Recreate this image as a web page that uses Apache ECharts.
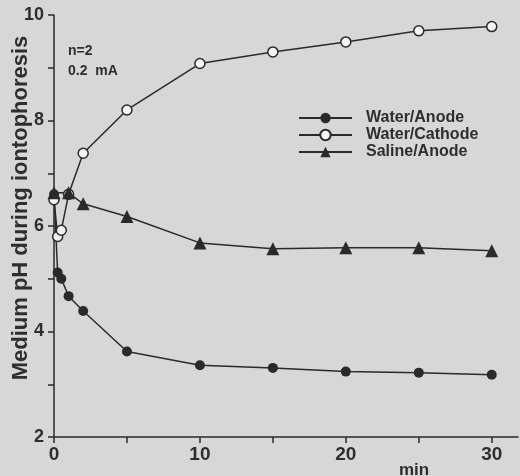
<!DOCTYPE html>
<html>
<head>
<meta charset="utf-8">
<script src="https://cdn.jsdelivr.net/npm/echarts@6/dist/echarts.min.js"></script>
<style>
  html, body { margin: 0; padding: 0; background: #d7d7d7; }
  #chart { width: 520px; height: 476px; }
</style>
</head>
<body>
<div id="chart"></div>
<script>
// data (time in min, medium pH)
const anodeTimes = [0, 0.25, 0.5, 1, 2, 5, 10, 15, 20, 25, 30];
const anodePH = [6.6, 5.12, 5.0, 4.67, 4.39, 3.62, 3.36, 3.31, 3.24, 3.22, 3.18];
const cathodeTimes = [0, 0.25, 0.5, 1, 2, 5, 10, 15, 20, 25, 30];
const cathodePH = [6.5, 5.8, 5.92, 6.6, 7.38, 8.2, 9.08, 9.3, 9.49, 9.7, 9.78];
const salineTimes = [0, 1, 2, 5, 10, 15, 20, 25, 30];
const salinePH = [6.63, 6.63, 6.42, 6.18, 5.68, 5.57, 5.59, 5.59, 5.53];
const seriesNames = ['Water/Anode', 'Water/Cathode', 'Saline/Anode'];
const xTicks = [0, 5, 10, 15, 20, 25, 30];
const xLabels = [0, 10, 20, 30];
const yLabels = [2, 4, 6, 8, 10];

const ink = '#2a2a2a';
const font = 'Liberation Sans, Arial, sans-serif';

function pairs(ts, vs) {
  return ts.map((t, i) => [t, vs[i]]);
}

const chart = echarts.init(document.getElementById('chart'));

chart.setOption({
  animation: false,
  backgroundColor: '#d7d7d7',
  grid: { left: 54, right: 2, top: 15, bottom: 39 },
  legend: {
    orient: 'vertical',
    left: 293,
    top: 105,
    itemWidth: 53,
    itemHeight: 13,
    itemGap: 1,
    data: seriesNames,
    textStyle: { color: '#2e2e2e', fontSize: 16, fontWeight: 'bold', fontFamily: font, padding: [0, 0, 0, 9] }
  },
  xAxis: {
    type: 'value',
    min: 0,
    max: 31.8,
    interval: 5,
    splitLine: { show: false },
    axisLine: { lineStyle: { color: ink, width: 1.5 } },
    axisTick: { length: 6, lineStyle: { color: ink, width: 1.5 }, customValues: xTicks },
    axisLabel: { customValues: xLabels, margin: 8, color: '#2e2e2e', fontSize: 19, fontWeight: 'bold', fontFamily: font }
  },
  yAxis: {
    type: 'value',
    min: 2,
    max: 10,
    interval: 1,
    splitLine: { show: false },
    axisLine: { show: true, lineStyle: { color: ink, width: 1.5 } },
    axisTick: { show: true, length: 6, lineStyle: { color: ink, width: 1.5 } },
    axisLabel: {
      margin: 10,
      color: '#2e2e2e',
      fontSize: 18,
      fontWeight: 'bold',
      fontFamily: font,
      formatter: v => (yLabels.indexOf(v) >= 0 ? String(v) : '')
    }
  },
  graphic: [
    {
      type: 'text', left: 68, top: 41,
      style: { text: 'n=2\n0.2  mA', fill: '#2e2e2e', font: 'bold 14px ' + font, lineHeight: 20 }
    },
    {
      type: 'text', x: 21, y: 208, rotation: Math.PI / 2,
      style: { text: 'Medium pH during iontophoresis', fill: '#2e2e2e', font: 'bold 22px ' + font, align: 'center', verticalAlign: 'middle' }
    },
    {
      type: 'text', x: 414, y: 470,
      style: { text: 'min', fill: '#2e2e2e', font: 'bold 17px ' + font, align: 'center', verticalAlign: 'middle' }
    }
  ],
  series: [
    {
      name: seriesNames[0], type: 'line', data: pairs(anodeTimes, anodePH),
      symbol: 'circle', symbolSize: 10,
      lineStyle: { color: ink, width: 1.5 }, itemStyle: { color: ink }
    },
    {
      name: seriesNames[1], type: 'line', data: pairs(cathodeTimes, cathodePH),
      symbol: 'circle', symbolSize: 10,
      lineStyle: { color: ink, width: 1.5 }, itemStyle: { color: '#f4f4f4', borderColor: ink, borderWidth: 1.5 }
    },
    {
      name: seriesNames[2], type: 'line', data: pairs(salineTimes, salinePH),
      symbol: 'triangle', symbolSize: 13,
      lineStyle: { color: ink, width: 1.5 }, itemStyle: { color: ink }
    }
  ]
});
</script>
</body>
</html>
